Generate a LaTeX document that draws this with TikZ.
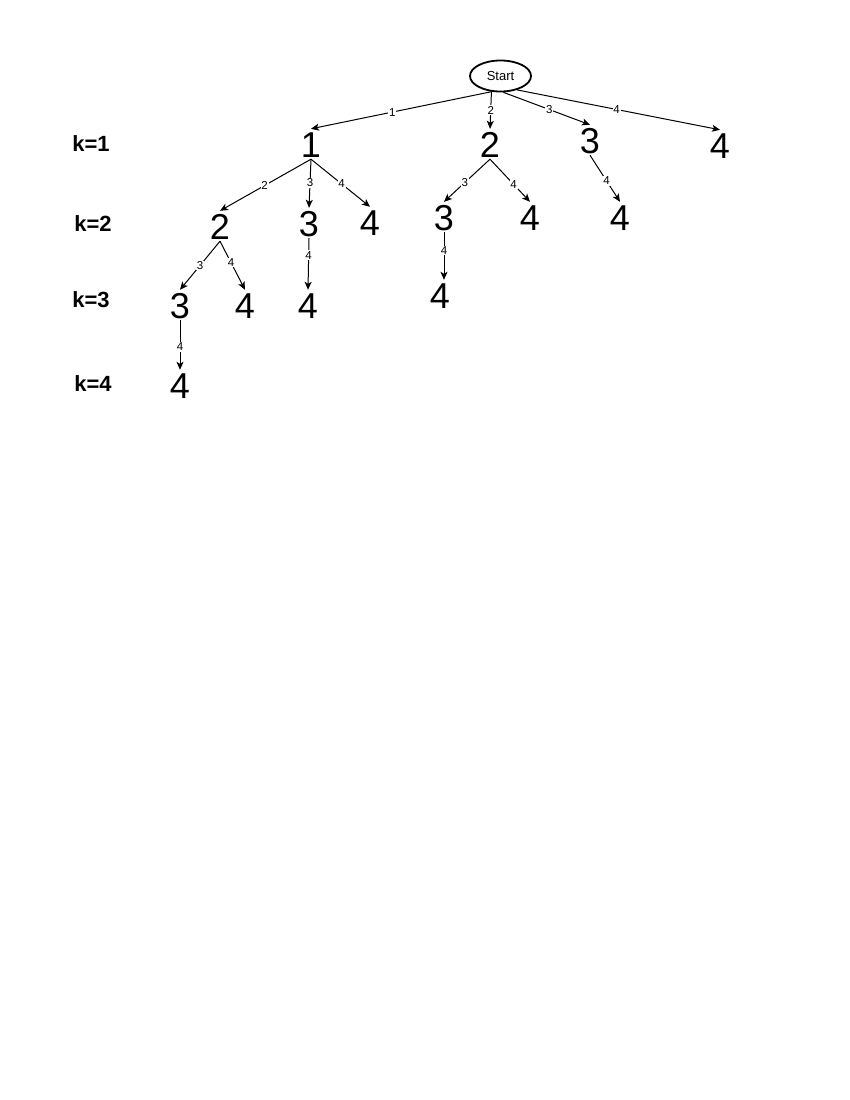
\documentclass[tikz,border=0pt]{standalone}
\usepackage{fontspec}
\setmainfont{Liberation Sans}
\usetikzlibrary{arrows.meta,shapes.geometric}
\begin{document}
\begin{tikzpicture}[x=1pt,y=-1pt,
  num/.style={font=\fontsize{36}{40}\selectfont, inner xsep=0pt, inner ysep=2pt, text height=26pt, text depth=0pt},
  klab/.style={font=\fontsize{22}{24}\selectfont\bfseries, inner sep=0pt},
  edge/.style={draw, line width=1pt, -{Stealth[length=8pt,width=7pt,inset=2pt]}},
  elab/.style={font=\fontsize{11.5}{13}\selectfont, fill=white, inner sep=0.8pt},
]
\useasboundingbox (0,0) rectangle (850,1100);
\node[draw, ellipse, line width=1.8pt, minimum width=61pt, minimum height=31pt, inner sep=0pt, font=\fontsize{13}{15}\selectfont] (start) at (500.5,76) {Start};
% level labels
\node[klab] (k1) at (91,144) {k=1};
\node[klab] (k2) at (93,224) {k=2};
\node[klab] (k3) at (91,300) {k=3};
\node[klab] (k4) at (93,384) {k=4};
% level 1
\node[num] (a1) at (311,144) {1};
\node[num] (a2) at (490,144) {2};
\node[num] (a3) at (590,140) {3};
\node[num] (a4) at (720,145) {4};
% level 2
\node[num] (b12) at (220,226) {2};
\node[num] (b13) at (309,223) {3};
\node[num] (b14) at (370,222) {4};
\node[num] (b23) at (444,217) {3};
\node[num] (b24) at (530,217) {4};
\node[num] (b34) at (620,217) {4};
% level 3
\node[num] (c123) at (180,305) {3};
\node[num] (c124) at (245,305) {4};
\node[num] (c134) at (308,305) {4};
\node[num] (c234) at (440,295) {4};
% level 4
\node[num] (d1234) at (180,385) {4};
% edges from start
\draw[edge] (start.-120) -- node[elab,pos=0.55]{1} (a1.north);
\draw[edge] (start.-120) -- node[elab,pos=0.5]{2} (a2.north);
\draw[edge] (start.-80) -- node[elab,pos=0.53]{3} (a3.north);
\draw[edge] (start.-40) -- node[elab,pos=0.49]{4} (a4.north);
% from level 1
\draw[edge] (a1.south) -- node[elab,pos=0.51]{2} (b12.north);
\draw[edge] (a1.south) -- node[elab,pos=0.49]{3} (b13.north);
\draw[edge] (a1.south) -- node[elab,pos=0.52]{4} (b14.north);
\draw[edge] (a2.south) -- node[elab,pos=0.55]{3} (b23.north);
\draw[edge] (a2.south) -- node[elab,pos=0.59]{4} (b24.north);
\draw[edge] (a3.south) -- node[elab,pos=0.55]{4} (b34.north);
% from level 2
\draw[edge] (b12.south) -- node[elab,pos=0.5]{3} (c123.north);
\draw[edge] (b12.south) -- node[elab,pos=0.44]{4} (c124.north);
\draw[edge] (b13.south) -- node[elab,pos=0.33]{4} (c134.north);
\draw[edge] (b23.south) -- node[elab,pos=0.38]{4} (c234.north -| b23.south);
% from level 3
\draw[edge] (c123.south) -- node[elab,pos=0.54]{4} (d1234.north);
\end{tikzpicture}
\end{document}
